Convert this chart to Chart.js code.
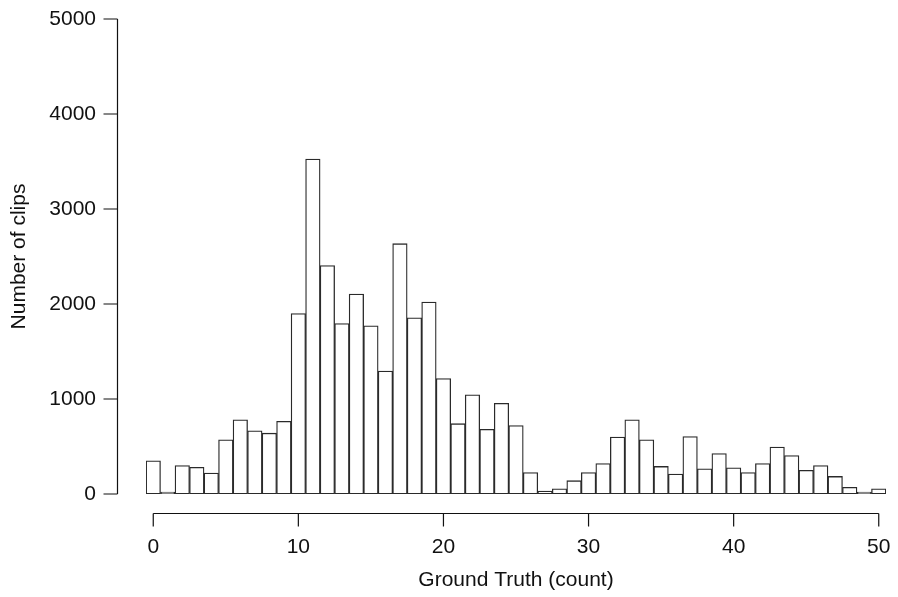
<!DOCTYPE html>
<html>
<head>
<meta charset="utf-8">
<script src="https://cdn.jsdelivr.net/npm/chart.js@4"></script>
<style>
  html, body { margin: 0; padding: 0; background: #fff; }
  #wrap { width: 898px; height: 597px; }
</style>
</head>
<body>
<div id="wrap"><canvas id="c" width="898" height="597"></canvas></div>
<script>
// ---- data ----
const groundTruth = [0,1,2,3,4,5,6,7,8,9,10,11,12,13,14,15,16,17,18,19,20,21,22,23,24,25,26,27,28,29,30,31,32,33,34,35,36,37,38,39,40,41,42,43,44,45,46,47,48,49,50];
const clipCounts = [350,10,300,280,220,570,780,665,640,765,1900,3525,2405,1795,2105,1770,1295,2635,1855,2020,1215,740,1045,680,955,720,225,30,55,140,225,320,600,780,570,290,210,605,265,425,275,225,320,495,405,250,300,185,70,20,55];
const xTickValues = [0,10,20,30,40,50];
const yTickValues = [0,1000,2000,3000,4000,5000];
const xTitle = 'Ground Truth (count)';
const yTitle = 'Number of clips';

const FONT = "'Liberation Sans', Arial, Helvetica, sans-serif";
const INK = '#111';

// R-style detached axes drawn from the library's scales
const rAxes = {
  id: 'rAxes',
  afterDraw(chart) {
    const ctx = chart.ctx;
    const xs = chart.scales.x, ys = chart.scales.y;
    const area = chart.chartArea;
    ctx.save();
    ctx.strokeStyle = INK;
    ctx.lineWidth = 1.2;
    // y axis
    const ax = Math.round(area.left - 29) + 0.5;
    const y0 = ys.getPixelForValue(yTickValues[0]);
    const y1 = ys.getPixelForValue(yTickValues[yTickValues.length - 1]);
    ctx.beginPath();
    ctx.moveTo(ax, y0); ctx.lineTo(ax, y1);
    yTickValues.forEach(v => {
      const p = ys.getPixelForValue(v);
      ctx.moveTo(ax, p); ctx.lineTo(ax - 14, p);
    });
    ctx.stroke();
    // x axis
    const ay = Math.round(area.bottom + 19) + 0.5;
    const x0 = xs.getPixelForValue(xTickValues[0]);
    const x1 = xs.getPixelForValue(xTickValues[xTickValues.length - 1]);
    ctx.beginPath();
    ctx.moveTo(x0, ay); ctx.lineTo(x1, ay);
    xTickValues.forEach(v => {
      const p = xs.getPixelForValue(v);
      ctx.moveTo(p, ay); ctx.lineTo(p, ay + 13);
    });
    ctx.stroke();
    ctx.restore();
  }
};

new Chart(document.getElementById('c'), {
  type: 'bar',
  data: {
    datasets: [{
      data: groundTruth.map((g, i) => ({ x: g, y: clipCounts[i] })),
      backgroundColor: '#ffffff',
      borderColor: '#2a2a2a',
      borderWidth: 1.3,
      borderSkipped: false,
      minBarLength: 2,
      barPercentage: 1.0,
      categoryPercentage: 1.0
    }]
  },
  options: {
    responsive: false,
    devicePixelRatio: 1,
    animation: false,
    events: [],
    layout: { padding: { top: 19, right: 12, bottom: 0, left: 0 } },
    plugins: { legend: { display: false }, tooltip: { enabled: false } },
    scales: {
      x: {
        type: 'linear',
        offset: false,
        min: -0.5,
        max: 50.5,
        grid: { display: false, drawTicks: false },
        border: { display: false },
        afterBuildTicks: s => { s.ticks = xTickValues.map(v => ({ value: v })); },
        afterFit: s => { s.height = 103; s.paddingLeft = 0; s.paddingRight = 0; },
        ticks: {
          padding: 41,
          maxRotation: 0,
          autoSkip: false,
          color: INK,
          font: { family: FONT, size: 21 },
          callback: v => String(v)
        },
        title: {
          display: true,
          text: xTitle,
          color: INK,
          font: { family: FONT, size: 21 },
          padding: { top: 0, bottom: 4 }
        }
      },
      y: {
        type: 'linear',
        min: 0,
        max: 5000,
        grid: { display: false, drawTicks: false },
        border: { display: false },
        afterBuildTicks: s => { s.ticks = yTickValues.map(v => ({ value: v })); },
        afterFit: s => { s.width = 146; s.paddingTop = 0; s.paddingBottom = 0; },
        ticks: {
          padding: 50,
          autoSkip: false,
          color: INK,
          font: { family: FONT, size: 21 },
          callback: v => String(v)
        },
        title: {
          display: true,
          text: yTitle,
          color: INK,
          font: { family: FONT, size: 21 },
          padding: { top: 7, bottom: 0 }
        }
      }
    }
  },
  plugins: [rAxes]
});
</script>
</body>
</html>
